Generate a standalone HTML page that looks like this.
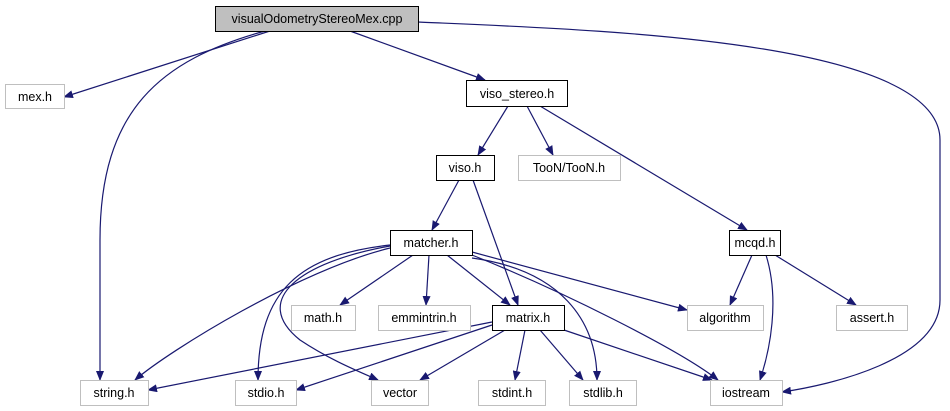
<!DOCTYPE html>
<html><head><meta charset="utf-8"><style>
body{margin:0;background:#fff;width:950px;height:411px;overflow:hidden}
svg{display:block}
text{font-family:"Liberation Sans",sans-serif;font-size:12.5px;fill:#000}
</style></head><body>
<svg width="950" height="411" viewBox="0 0 950 411" xmlns="http://www.w3.org/2000/svg">
<defs><marker id="a" markerWidth="10" markerHeight="8" refX="9" refY="4" orient="auto" markerUnits="userSpaceOnUse"><path d="M0,0 L10,4 L0,8 z" fill="#191970"/></marker></defs>
<g fill="none" stroke="#191970" stroke-width="1.2" marker-end="url(#a)">
<path d="M270,31 L64,97"/>
<path d="M265,31 C160,60 100,110 100,240 L100,380"/>
<path d="M350,31 L485,80"/>
<path d="M418,22 C600,30 940,40 940,140 L940,300 C940,360 830,385 782,392"/>
<path d="M508,106 L478,155"/>
<path d="M527,106 L553,155"/>
<path d="M540,106 L747,230"/>
<path d="M459,180 L432,230"/>
<path d="M473,180 L518,305"/>
<path d="M413,255 L340,305"/>
<path d="M429,255 L426,305"/>
<path d="M447,255 L510,305"/>
<path d="M472,252 L687,310"/>
<path d="M472,255 C560,290 680,350 718,380"/>
<path d="M472,258 C560,270 597,320 597,380"/>
<path d="M390,248 C300,270 170,350 135,380"/>
<path d="M390,245 C300,255 258,290 258,380"/>
<path d="M390,246 C300,262 250,300 300,340 C330,360 360,372 378,380"/>
<path d="M492,322 L148,390"/>
<path d="M492,325 L296,390"/>
<path d="M505,330 L420,380"/>
<path d="M525,330 L515,380"/>
<path d="M540,330 L583,380"/>
<path d="M564,330 L712,380"/>
<path d="M752,255 L730,305"/>
<path d="M766,255 C780,300 770,350 760,380"/>
<path d="M775,255 L856,305"/>
</g>
<g stroke-width="1">
<rect x="215.5" y="6.5" width="203" height="25" fill="#bfbfbf" stroke="#000"/>
<rect x="5.5" y="84.5" width="59" height="24" fill="#fff" stroke="#bfbfbf"/>
<rect x="466.5" y="80.5" width="101" height="26" fill="#fff" stroke="#000"/>
<rect x="436.5" y="155.5" width="58" height="25" fill="#fff" stroke="#000"/>
<rect x="518.5" y="155.5" width="102" height="25" fill="#fff" stroke="#bfbfbf"/>
<rect x="729.5" y="230.5" width="51" height="25" fill="#fff" stroke="#000"/>
<rect x="390.5" y="230.5" width="82" height="25" fill="#fff" stroke="#000"/>
<rect x="291.5" y="305.5" width="64" height="25" fill="#fff" stroke="#bfbfbf"/>
<rect x="378.5" y="305.5" width="92" height="25" fill="#fff" stroke="#bfbfbf"/>
<rect x="492.5" y="305.5" width="72" height="25" fill="#fff" stroke="#000"/>
<rect x="687.5" y="305.5" width="76" height="25" fill="#fff" stroke="#bfbfbf"/>
<rect x="836.5" y="305.5" width="71" height="25" fill="#fff" stroke="#bfbfbf"/>
<rect x="80.5" y="380.5" width="68" height="25" fill="#fff" stroke="#bfbfbf"/>
<rect x="235.5" y="380.5" width="61" height="25" fill="#fff" stroke="#bfbfbf"/>
<rect x="371.5" y="380.5" width="57" height="25" fill="#fff" stroke="#bfbfbf"/>
<rect x="478.5" y="380.5" width="67" height="25" fill="#fff" stroke="#bfbfbf"/>
<rect x="569.5" y="380.5" width="67" height="25" fill="#fff" stroke="#bfbfbf"/>
<rect x="710.5" y="380.5" width="72" height="25" fill="#fff" stroke="#bfbfbf"/>
</g>
<g text-anchor="middle">
<text x="317" y="23">visualOdometryStereoMex.cpp</text>
<text x="35" y="101">mex.h</text>
<text x="517" y="98">viso_stereo.h</text>
<text x="465" y="172">viso.h</text>
<text x="569" y="172">TooN/TooN.h</text>
<text x="755" y="247">mcqd.h</text>
<text x="431" y="247">matcher.h</text>
<text x="323" y="322">math.h</text>
<text x="424" y="322">emmintrin.h</text>
<text x="528" y="322">matrix.h</text>
<text x="725" y="322">algorithm</text>
<text x="872" y="322">assert.h</text>
<text x="114" y="397">string.h</text>
<text x="266" y="397">stdio.h</text>
<text x="400" y="397">vector</text>
<text x="512" y="397">stdint.h</text>
<text x="603" y="397">stdlib.h</text>
<text x="746" y="397">iostream</text>
</g>
</svg>
</body></html>
